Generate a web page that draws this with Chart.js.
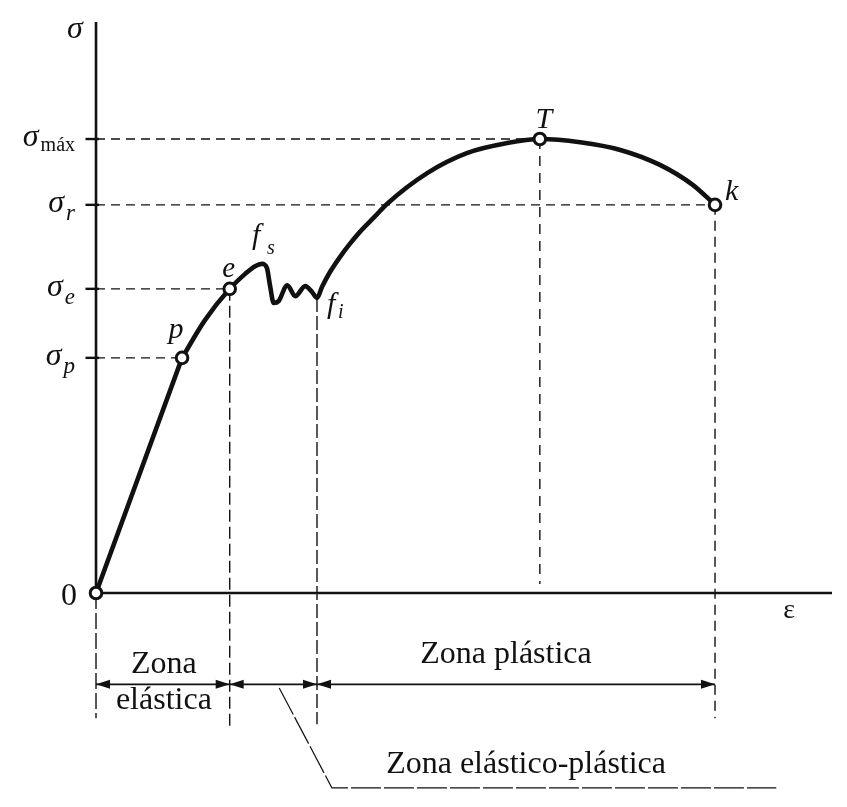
<!DOCTYPE html>
<html><head><meta charset="utf-8">
<script src="https://cdn.jsdelivr.net/npm/chart.js@4/dist/chart.umd.min.js"></script>
<style>html,body{margin:0;padding:0;background:#fff}canvas{display:block}</style>
</head><body>
<canvas id="c" width="847" height="807"></canvas>
<script>
// ---------- DATA (strain ε, stress σ in relative units; σ_máx = 100, ε_k = 100) ----------
const elasticStrain = [0, 13.9];
const elasticStress = [0, 51.8];
const curveStrain = [13.9, 17.6, 21.6, 24.1, 25.7, 26.8, 27.6, 28.1, 28.7, 29.5, 30.9, 32.2, 33.8, 34.9, 35.7, 36.5, 37.8, 39.4, 41.0, 42.6, 45.1, 47.0, 53.5, 59.9, 66.4, 71.7, 78.2, 84.7, 91.1, 96.4, 100];
const curveStress = [51.8, 60.1, 67.0, 70.3, 72.0, 72.5, 71.6, 67.8, 63.9, 64.3, 67.8, 65.4, 67.6, 66.3, 65.0, 67.4, 70.7, 74.0, 76.9, 79.5, 83.0, 85.7, 92.5, 96.9, 99.1, 100, 99.3, 97.6, 94.3, 89.9, 85.5];
const keyNames  = ['0', 'p', 'e', 'T', 'k'];
const keyStrain = [0, 13.9, 21.6, 71.7, 100];
const keyStress = [0, 51.8, 67.0, 100, 85.5];
const levelNames  = ['p', 'e', 'r', 'máx'];
const levelStrain = [13.9, 21.6, 100, 71.7];
const levelStress = [51.8, 67.0, 85.5, 100];
const yieldNames  = ['s', 'i'];
const yieldStrain = [26.8, 35.7];
const yieldStress = [72.5, 65.0];
const zoneBounds = [0, 21.6, 35.7, 100];
const zoneLabels = [['Zona', 'elástica'], [], ['Zona plástica']];
const leaderLabel = 'Zona elástico-plástica';
const axisNames = ['ε', 'σ'];

// ---------- LAYOUT (in axis units) ----------
const X_MIN = -15.51, X_MAX = 121.32, Y_MIN = -47.13, Y_MAX = 130.62;
const AXIS_X_END = 118.9, AXIS_Y_END = 125.8;
const DIM_Y = -20.1;
const LEADER = [[29.6, -20.9], [38.1, -42.9], [109.9, -42.9]];
const INK = '#111';

function seg(pts, extra) {
  return Object.assign({data: pts.map(p => ({x: p[0], y: p[1]})), showLine: true, pointRadius: 0,
    borderColor: INK, borderWidth: 1.4, fill: false, tension: 0}, extra || {});
}

const datasets = [];
// markers on top
datasets.push({data: keyStrain.map((x, i) => ({x, y: keyStress[i]})), showLine: false,
  pointRadius: 5.8, pointBackgroundColor: '#fff', pointBorderColor: INK, pointBorderWidth: 3, pointHoverRadius: 5.8});
// curve
datasets.push(seg(elasticStrain.map((x, i) => [x, elasticStress[i]]), {borderWidth: 4.6, borderCapStyle: 'round', borderJoinStyle: 'round'}));
datasets.push(seg(curveStrain.map((x, i) => [x, curveStress[i]]), {borderWidth: 4.6, borderCapStyle: 'round', borderJoinStyle: 'round', cubicInterpolationMode: 'monotone'}));
// axes
datasets.push(seg([[0, 0], [0, AXIS_Y_END]], {borderWidth: 2.6}));
datasets.push(seg([[0, 0], [AXIS_X_END, 0]], {borderWidth: 2.4}));
// ticks on y axis
levelStress.forEach(s => datasets.push(seg([[-1.7, s], [0.5, s]], {borderWidth: 2.4})));
// horizontal guides
levelStress.forEach((s, i) => datasets.push(seg([[0, s], [levelStrain[i], s]], {borderDash: [9, 6]})));
// vertical guides
datasets.push(seg([[keyStrain[2], keyStress[2]], [keyStrain[2], -30.0]], {borderDash: [12, 5]}));
datasets.push(seg([[yieldStrain[1], yieldStress[1]], [yieldStrain[1], -28.9]], {borderDash: [14, 4]}));
datasets.push(seg([[keyStrain[3], keyStress[3]], [keyStrain[3], 2]], {borderDash: [10, 7]}));
datasets.push(seg([[keyStrain[4], keyStress[4]], [keyStrain[4], -27.6]], {borderDash: [10, 6]}));
datasets.push(seg([[0, 0], [0, -27.6]], {borderDash: [16, 4]}));
// dimension lines
for (let i = 0; i < zoneBounds.length - 1; i++)
  datasets.push(seg([[zoneBounds[i], DIM_Y], [zoneBounds[i + 1], DIM_Y]], {borderWidth: 1.8}));
// leader
datasets.push(seg(LEADER, {borderWidth: 1.2, borderDash: [30, 3]}));

const annot = {
  id: 'annot',
  afterDatasetsDraw(chart) {
    const ctx = chart.ctx, X = v => chart.scales.x.getPixelForValue(v), Y = v => chart.scales.y.getPixelForValue(v);
    ctx.save();
    ctx.fillStyle = INK;
    const txt = (s, x, y, font, align) => { ctx.font = font; ctx.textAlign = align || 'center'; ctx.textBaseline = 'alphabetic'; ctx.fillText(s, x, y); };
    const SERIF = '"Liberation Serif", "DejaVu Serif", serif';
    // arrowheads
    const arrow = (xt, y, dir) => {
      ctx.beginPath(); ctx.moveTo(xt, y); ctx.lineTo(xt - dir * 14, y - 4.5); ctx.lineTo(xt - dir * 14, y + 4.5); ctx.closePath(); ctx.fill();
    };
    for (let i = 0; i < zoneBounds.length - 1; i++) {
      arrow(X(zoneBounds[i]), Y(DIM_Y), -1);
      arrow(X(zoneBounds[i + 1]), Y(DIM_Y), 1);
    }
    // axis names
    txt(axisNames[1], X(0) - 21, Y(AXIS_Y_END) + 16, 'italic 32px ' + SERIF);
    txt(axisNames[0], X(AXIS_X_END) - 43, Y(0) + 25, '28px ' + SERIF);
    txt(keyNames[0], X(0) - 27, Y(0) + 12, '32px ' + SERIF);
    // σ level labels
    const xr = X(0) - 21;
    levelNames.forEach((n, i) => {
      const y = Y(levelStress[i]);
      const upright = n.length > 1;
      ctx.font = (upright ? '20px ' : 'italic 23px ') + SERIF;
      const w = ctx.measureText(n).width;
      txt(n, xr - w, y + (upright ? 12 : 15), (upright ? '20px ' : 'italic 23px ') + SERIF, 'left');
      txt('σ', xr - w - 2, y + 7, 'italic 32px ' + SERIF, 'right');
    });
    // point labels
    txt(keyNames[1], X(keyStrain[1]) - 6, Y(keyStress[1]) - 20, 'italic 30px ' + SERIF);
    txt(keyNames[2], X(keyStrain[2]) - 1, Y(keyStress[2]) - 12, 'italic 29px ' + SERIF);
    txt(keyNames[3], X(keyStrain[3]) + 4, Y(keyStress[3]) - 11, 'italic 30px ' + SERIF);
    txt(keyNames[4], X(keyStrain[4]) + 10, Y(keyStress[4]) - 5, 'italic 30px ' + SERIF, 'left');
    // yield labels f_s, f_i
    txt('f', X(yieldStrain[0]) - 10, Y(yieldStress[0]) - 20, 'italic 30px ' + SERIF, 'left');
    txt(yieldNames[0], X(yieldStrain[0]) + 5, Y(yieldStress[0]) - 10, 'italic 20px ' + SERIF, 'left');
    txt('f', X(yieldStrain[1]) + 10, Y(yieldStress[1]) + 15, 'italic 30px ' + SERIF, 'left');
    txt(yieldNames[1], X(yieldStrain[1]) + 21, Y(yieldStress[1]) + 20, 'italic 20px ' + SERIF, 'left');
    // zone labels
    const zf = '32px ' + SERIF;
    const zc0 = (X(zoneBounds[0]) + X(zoneBounds[1])) / 2 + 1;
    txt(zoneLabels[0][0], zc0, Y(DIM_Y) - 11, zf);
    txt(zoneLabels[0][1], zc0, Y(DIM_Y) + 25, zf);
    const zc2 = (X(zoneBounds[2]) + X(zoneBounds[3])) / 2 - 10;
    txt(zoneLabels[2][0], zc2, Y(DIM_Y) - 21, zf);
    txt(leaderLabel, (X(LEADER[1][0]) + X(LEADER[2][0])) / 2 - 28, Y(LEADER[2][1]) - 15, zf);
    ctx.restore();
  }
};

new Chart(document.getElementById('c'), {
  type: 'scatter',
  data: {datasets},
  options: {
    responsive: false, animation: false, events: [],
    layout: {padding: 0, autoPadding: false},
    plugins: {legend: {display: false}, tooltip: {enabled: false}},
    scales: {
      x: {type: 'linear', min: X_MIN, max: X_MAX, display: false},
      y: {type: 'linear', min: Y_MIN, max: Y_MAX, display: false}
    }
  },
  plugins: [annot]
});
</script>
</body></html>
